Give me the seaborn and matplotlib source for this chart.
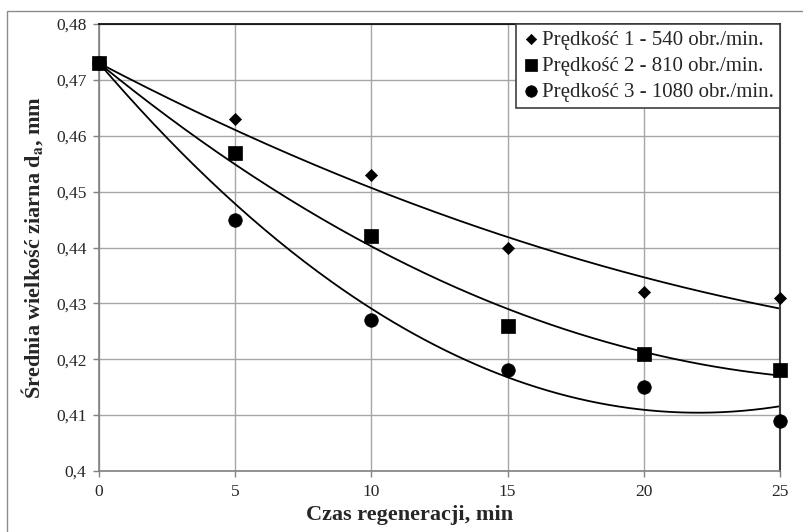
import numpy as np
import pandas as pd
import matplotlib
matplotlib.use("Agg")
import matplotlib.pyplot as plt
import seaborn as sns
from matplotlib.patches import Rectangle

# ---- data ----
czas = [0, 5, 10, 15, 20, 25]
predkosc_1 = [0.473, 0.463, 0.453, 0.440, 0.432, 0.431]
predkosc_2 = [0.473, 0.457, 0.442, 0.426, 0.421, 0.418]
predkosc_3 = [0.473, 0.445, 0.427, 0.418, 0.415, 0.409]
series_names = ["Prędkość 1 - 540 obr./min.",
                "Prędkość 2 - 810 obr./min.",
                "Prędkość 3 - 1080 obr./min."]
y_ticks = [0.40, 0.41, 0.42, 0.43, 0.44, 0.45, 0.46, 0.47, 0.48]
y_tick_labels = ["0,4", "0,41", "0,42", "0,43", "0,44", "0,45", "0,46", "0,47", "0,48"]
x_ticks = [0, 5, 10, 15, 20, 25]

sns.set_theme(style="white")
plt.rcParams["font.family"] = ["Liberation Serif", "DejaVu Serif"]
plt.rcParams["mathtext.fontset"] = "stix"

df = pd.DataFrame({
    "czas": czas * 3,
    "wartosc": predkosc_1 + predkosc_2 + predkosc_3,
    "seria": [series_names[0]] * 6 + [series_names[1]] * 6 + [series_names[2]] * 6,
})

fig = plt.figure(figsize=(8.04, 5.32), dpi=100)
ax = fig.add_axes([99 / 804, 1 - 471 / 532, (780 - 99) / 804, (471 - 24) / 532])

# outer chart border (Excel chart area)
fig.patches.append(Rectangle((7 / 804, -0.01), 1.0, 1 - 11 / 532 + 0.01,
                             transform=fig.transFigure, fill=False,
                             edgecolor="#8c8c8c", linewidth=1.0))

# trendlines: 2nd order polynomial with intercept fixed at the first value
x_fine = np.linspace(min(czas), max(czas), 200)
trend_rows = []
for name, vals in zip(series_names, [predkosc_1, predkosc_2, predkosc_3]):
    x = np.array(czas, dtype=float)
    y0 = vals[0]
    A = np.column_stack([x, x ** 2])
    coef, *_ = np.linalg.lstsq(A, np.array(vals) - y0, rcond=None)
    yf = y0 + coef[0] * x_fine + coef[1] * x_fine ** 2
    trend_rows.append(pd.DataFrame({"czas": x_fine, "wartosc": yf, "seria": name}))
trend = pd.concat(trend_rows, ignore_index=True)
sns.lineplot(data=trend, x="czas", y="wartosc", units="seria", estimator=None,
             color="black", linewidth=1.3, ax=ax, legend=False)

markers = {series_names[0]: "D", series_names[1]: "s", series_names[2]: "o"}
sizes = {series_names[0]: 38, series_names[1]: 95, series_names[2]: 95}
for name in series_names:
    sub = df[df["seria"] == name]
    sns.scatterplot(data=sub, x="czas", y="wartosc", marker=markers[name],
                    s=sizes[name], color="black", edgecolor="black",
                    linewidth=0.5, ax=ax, label=name, zorder=5, clip_on=False)

ax.set_xlim(0, 25)
ax.set_ylim(0.40, 0.48)
ax.set_xticks(x_ticks)
ax.set_xticklabels([str(v) for v in x_ticks], fontsize=12.5)
ax.set_yticks(y_ticks)
ax.set_yticklabels(y_tick_labels, fontsize=12.5)
ax.grid(True, color="#a6a6a6", linewidth=1.0)
ax.set_axisbelow(True)
ax.tick_params(axis="both", which="both", direction="out", length=4, width=1,
               color="#808080", left=True, bottom=True, pad=5)

for side in ["left", "bottom"]:
    ax.spines[side].set_color("#808080")
    ax.spines[side].set_linewidth(1.2)
ax.spines["top"].set_color("black")
ax.spines["top"].set_linewidth(1.2)
ax.spines["right"].set_color("#404040")
ax.spines["right"].set_linewidth(1.5)

ax.set_xlabel("Czas regeneracji, min", fontsize=16, fontweight="bold")
ax.xaxis.set_label_coords((410 - 99) / 681, -(515 - 471) / 447)
ax.xaxis.label.set_va("center")
ax.set_ylabel(r"Średnia wielkość ziarna d$_{\mathbf{a}}$, mm", fontsize=16,
              fontweight="bold")
ax.yaxis.set_label_coords(-(99 - 32) / 681, 0.5)
ax.yaxis.label.set_va("center")

leg = ax.legend(loc="upper right", bbox_to_anchor=(1.0, 1.0), fontsize=15,
                frameon=True, fancybox=False, shadow=False, handletextpad=0.05,
                handlelength=0.9, borderpad=0.3, labelspacing=0.3,
                borderaxespad=0.0, markerscale=0.85)
leg.get_frame().set_edgecolor("#404040")
leg.get_frame().set_linewidth(1.2)
leg.get_frame().set_facecolor("white")
leg.get_frame().set_alpha(1.0)

fig.savefig("out.png", dpi=100)
